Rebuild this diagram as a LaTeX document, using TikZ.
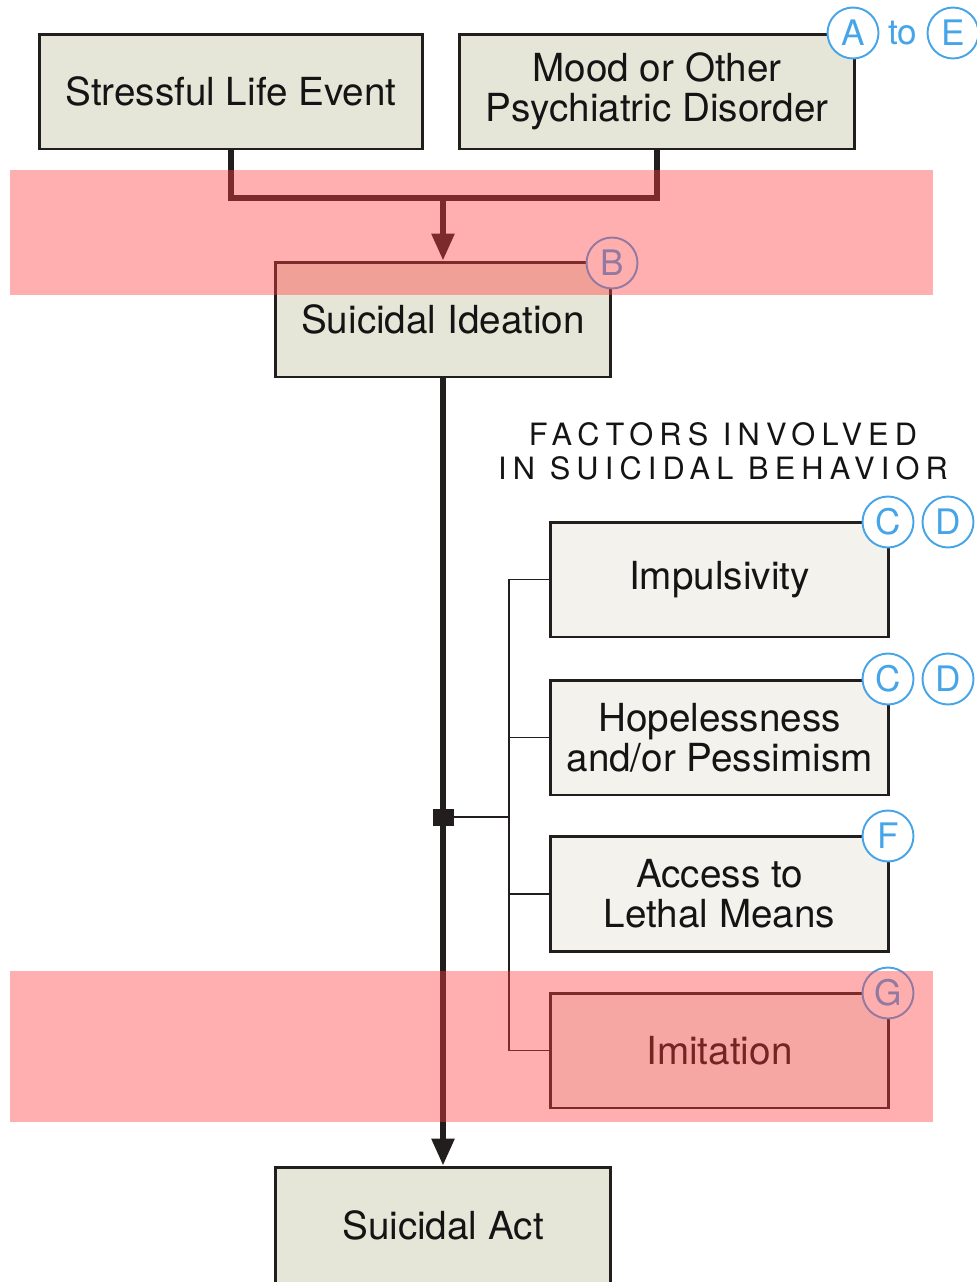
\documentclass[tikz,border=0pt]{standalone}
\usepackage{fontspec}
\setmainfont{TeX Gyre Heros}
\usetikzlibrary{arrows.meta}
\definecolor{boxfill}{RGB}{230,230,216}
\definecolor{facfill}{RGB}{243,242,236}
\definecolor{boxline}{RGB}{35,30,30}
\definecolor{lblblue}{RGB}{70,165,232}
\definecolor{pinkov}{RGB}{255,60,60}
\begin{document}
\begin{tikzpicture}[x=0.02cm,y=-0.02cm,
  mainbox/.style={draw=boxline,line width=1.7pt,fill=boxfill,inner sep=0pt,
    align=center,text=black!92,font=\fontsize{22}{22.7}\selectfont,minimum height=2.3cm},
  facbox/.style={mainbox,fill=facfill,minimum width=6.78cm},
  lbl/.style={circle,draw=lblblue,line width=1.1pt,fill=white,minimum size=1.02cm,
    inner sep=0pt,text=lblblue,font=\fontsize{20}{20}\selectfont},
  heavy/.style={line width=3.3pt,draw=boxline},
  thinline/.style={line width=1.1pt,draw=boxline},
  tip/.style={-{Triangle[width=0.44cm,length=0.54cm]}}]
\useasboundingbox (0,0) rectangle (977,1282);
% top boxes
\node[mainbox,minimum width=7.68cm] (sle) at (231,91.5) {Stressful Life Event};
\node[mainbox,minimum width=7.92cm] (mood) at (657,91.5) {Mood or Other\\Psychiatric Disorder};
\node[mainbox,minimum width=6.72cm] (ide) at (443,319.5) {Suicidal Ideation};
\node[mainbox,minimum width=6.72cm,minimum height=2.32cm] (act) at (443,1225) {Suicidal Act};
% factors
\node[font=\fontsize{17.5}{19.3}\selectfont\addfontfeature{LetterSpace=20},align=center,text=black!92]
  (ftitle) at (723,451) {FACTORS INVOLVED\\IN SUICIDAL BEHAVIOR};
\node[facbox] (imp) at (719.5,579.5) {Impulsivity};
\node[facbox] (hop) at (719.5,737.5) {Hopelessness\\and/or Pessimism};
\node[facbox] (acc) at (719.5,894) {Access to\\Lethal Means};
\node[facbox] (imi) at (719.5,1050.5) {Imitation};
% connectors
\coordinate (jn) at (443,198);
\draw[heavy,line join=miter] (sle.south) |- (jn) -| (mood.south);
\draw[heavy,tip,fill=boxline] (jn) -- (ide.north);
\draw[heavy,tip,fill=boxline] (ide.south) -- (act.north);
\node[fill=boxline,minimum width=0.42cm,minimum height=0.34cm,inner sep=0pt] (sq) at (443,817) {};
\coordinate (br) at (510,817);
\draw[thinline] (sq.center) -- (br);
\draw[thinline] (imp.west) -- ++(-40,0) |- (imi.west);
\draw[thinline] (hop.west) -- ++(-40,0);
\draw[thinline] (acc.west) -- ++(-40,0);
% labels
\node[lbl] (la) at (853,33) {A};
\node[text=lblblue,font=\fontsize{20}{20}\selectfont,inner sep=0pt] (lto) at (903,33) {to};
\node[lbl] (le) at (953,33) {E};
\node[lbl] (lb) at (612,263) {B};
\node[lbl] (lc1) at (888,522) {C};
\node[lbl] (ld1) at (948,522) {D};
\node[lbl] (lc2) at (888,679) {C};
\node[lbl] (ld2) at (948,679) {D};
\node[lbl] (lf) at (888,836) {F};
\node[lbl] (lg) at (888,993) {G};
% highlight bands
\fill[pinkov,opacity=0.41] (10,170) rectangle (933,295);
\fill[pinkov,opacity=0.41] (10,971) rectangle (933,1122);
\end{tikzpicture}
\end{document}
